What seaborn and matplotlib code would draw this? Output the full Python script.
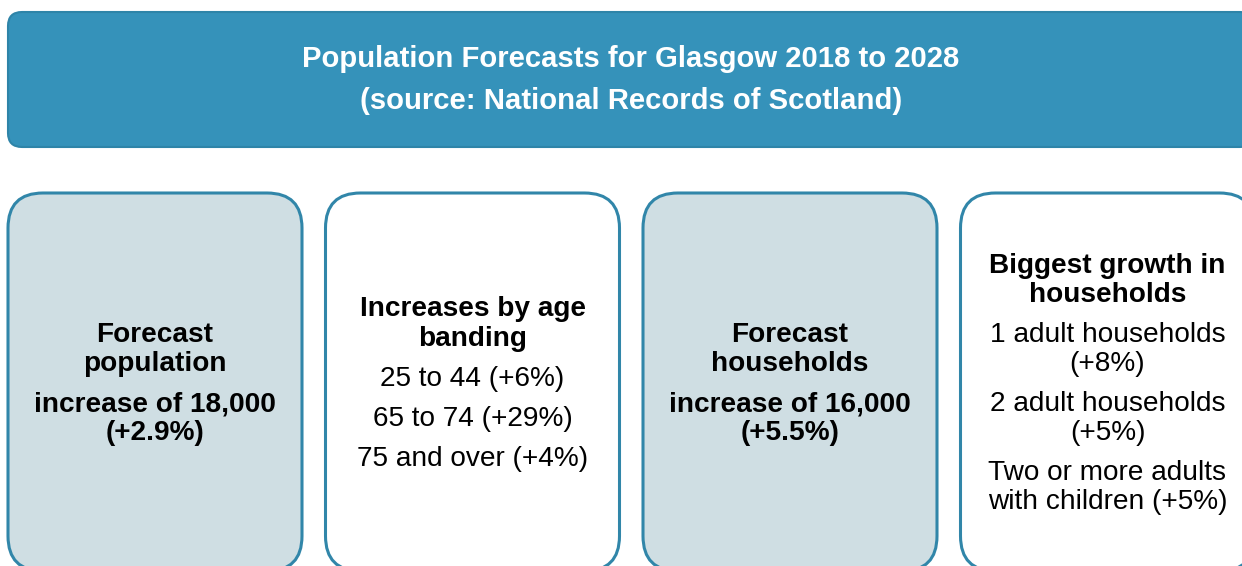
import matplotlib.pyplot as plt
import seaborn as sns
from matplotlib.patches import FancyBboxPatch


TITLE_LINES = [
    "Population Forecasts for Glasgow 2018 to 2028",
    "(source: National Records of Scotland)",
]

# each box: list of paragraphs, each paragraph = (bold, [lines])
BOX_TEXT = [
    [(True, ["Forecast", "population"]), (True, ["increase of 18,000", "(+2.9%)"])],
    [
        (True, ["Increases by age", "banding"]),
        (False, ["25 to 44 (+6%)"]),
        (False, ["65 to 74 (+29%)"]),
        (False, ["75 and over (+4%)"]),
    ],
    [(True, ["Forecast", "households"]), (True, ["increase of 16,000", "(+5.5%)"])],
    [
        (True, ["Biggest growth in", "households"]),
        (False, ["1 adult households", "(+8%)"]),
        (False, ["2 adult households", "(+5%)"]),
        (False, ["Two or more adults", "with children (+5%)"]),
    ],
]
BOX_SHADED = [True, False, True, False]

BANNER_FILL = "#3592ba"
BANNER_EDGE = "#2e84a8"
BOX_EDGE = "#3186a9"
BOX_FILL = "#cfdee3"


def draw_box(ax, x0, paragraphs, shaded, width=294, top=193, bottom=571):
    box = FancyBboxPatch(
        (x0 + 35, top + 35), width - 70, bottom - top - 70,
        boxstyle="round,pad=35",
        facecolor=BOX_FILL if shaded else "white",
        edgecolor=BOX_EDGE, linewidth=2.2,
    )
    ax.add_patch(box)

    line_gap = 29
    para_gap = 40
    n_lines = sum(len(lines) for _, lines in paragraphs)
    total = (n_lines - len(paragraphs)) * line_gap + (len(paragraphs) - 1) * para_gap
    y = (top + bottom) / 2 - total / 2
    cx = x0 + width / 2
    for i, (bold, lines) in enumerate(paragraphs):
        if i > 0:
            y += para_gap - line_gap
        for line in lines:
            ax.text(cx, y + 9, line, ha="center", va="baseline", fontsize=20.2,
                    fontweight="bold" if bold else "normal", color="black")
            y += line_gap


def main():
    sns.set_theme(style="white")
    plt.rcParams["font.family"] = ["Liberation Sans", "DejaVu Sans"]

    fig = plt.figure(figsize=(12.42, 5.66), dpi=100)
    ax = fig.add_axes([0, 0, 1, 1])
    ax.set_xlim(0, 1242)
    ax.set_ylim(566, 0)
    ax.axis("off")

    banner = FancyBboxPatch(
        (8 + 14, 12 + 14), 1246 - 28, 135 - 28,
        boxstyle="round,pad=14",
        facecolor=BANNER_FILL, edgecolor=BANNER_EDGE, linewidth=1.5,
    )
    ax.add_patch(banner)
    for i, line in enumerate(TITLE_LINES):
        ax.text(631, 58 + 42 * i + 9, line, ha="center", va="baseline",
                fontsize=21.1, fontweight="bold", color="white")

    for i, (paragraphs, shaded) in enumerate(zip(BOX_TEXT, BOX_SHADED)):
        draw_box(ax, 8 + i * 317.5, paragraphs, shaded)

    fig.savefig("out.png", dpi=100)


if __name__ == "__main__":
    main()
